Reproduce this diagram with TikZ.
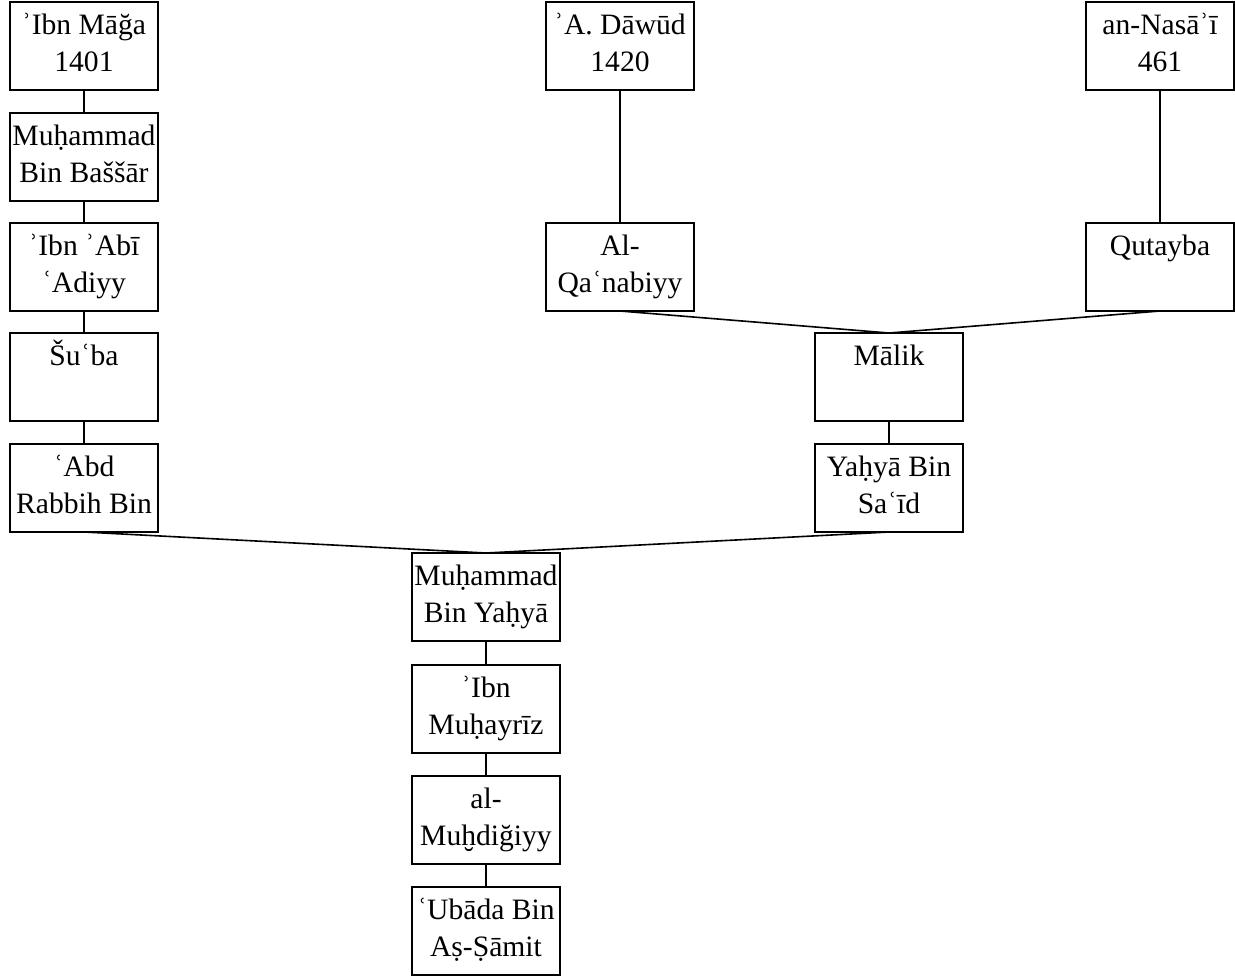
\documentclass[tikz,border=0pt]{standalone}
\usepackage{fontspec}
\setmainfont{Liberation Serif}
\begin{document}
% one isnad box: fixed 74pt x 44pt, text set from the top
\newcommand{\isnadtext}[1]{\parbox[t][44pt][t]{74pt}{\centering\rule{0pt}{16pt}#1}}
\begin{tikzpicture}[x=0.5pt,y=-0.5pt,
  narrator/.style={draw=black,line width=0.7pt,inner sep=0pt,outer sep=0pt,anchor=north west,
    font=\fontsize{14.8pt}{18.5pt}\selectfont},
  link/.style={draw=black,line width=0.8pt}]
\useasboundingbox (0,0) rectangle (1235,976);

% left chain
\node[narrator] (im)  at (10,2)   {\isnadtext{ʾIbn Māğa\\1401}};
\node[narrator] (mbb) at (10,113) {\isnadtext{Muḥammad\\Bin Baššār}};
\node[narrator] (iaa) at (10,223) {\isnadtext{ʾIbn ʾAbī\\ʿAdiyy}};
\node[narrator] (sub) at (10,333) {\isnadtext{Šuʿba}};
\node[narrator] (arb) at (10,444) {\isnadtext{ʿAbd\\Rabbih Bin}};

% middle and right chains
\node[narrator] (ad)  at (546,2)   {\isnadtext{ʾA. Dāwūd\\1420}};
\node[narrator] (qan) at (546,223) {\isnadtext{Al-\\Qaʿnabiyy}};
\node[narrator] (nas) at (1086,2)  {\isnadtext{an-Nasāʾī\\461}};
\node[narrator] (qut) at (1086,223){\isnadtext{Qutayba}};
\node[narrator] (mal) at (815,333) {\isnadtext{Mālik}};
\node[narrator] (ybs) at (815,444) {\isnadtext{Yaḥyā Bin\\Saʿīd}};

% common chain
\node[narrator] (mby) at (412,553) {\isnadtext{Muḥammad\\Bin Yaḥyā}};
\node[narrator] (imz) at (412,665) {\isnadtext{ʾIbn\\Muḥayrīz}};
\node[narrator] (muh) at (412,776) {\isnadtext{al-\\Muḫdiğiyy}};
\node[narrator] (ubs) at (412,887) {\isnadtext{ʿUbāda Bin\\Aṣ-Ṣāmit}};

% connectors
\draw[link] (im.south) -- (mbb.north);
\draw[link] (mbb.south) -- (iaa.north);
\draw[link] (iaa.south) -- (sub.north);
\draw[link] (sub.south) -- (arb.north);
\draw[link] (ad.south) -- (qan.north);
\draw[link] (nas.south) -- (qut.north);
\draw[link] (qan.south) -- (mal.north);
\draw[link] (qut.south) -- (mal.north);
\draw[link] (mal.south) -- (ybs.north);
\draw[link] (arb.south) -- (mby.north);
\draw[link] (ybs.south) -- (mby.north);
\draw[link] (mby.south) -- (imz.north);
\draw[link] (imz.south) -- (muh.north);
\draw[link] (muh.south) -- (ubs.north);
\end{tikzpicture}
\end{document}
